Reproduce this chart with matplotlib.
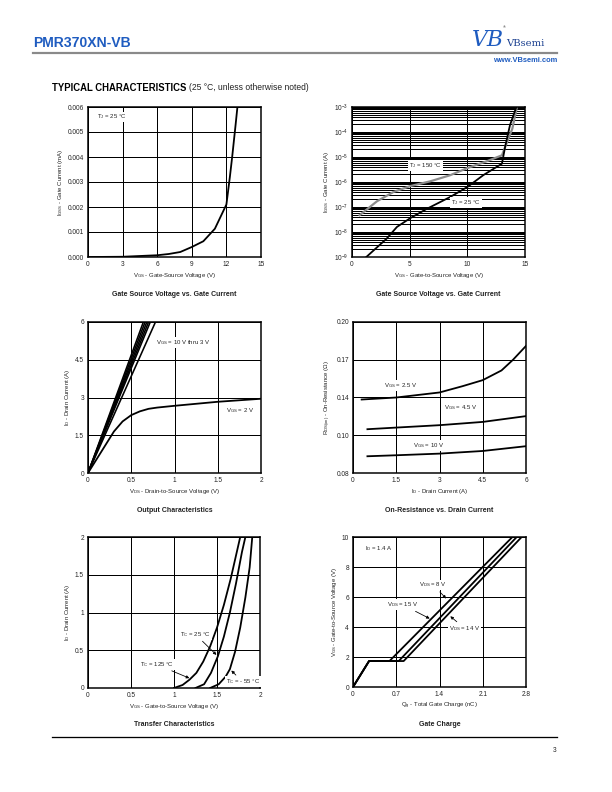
import numpy as np
import matplotlib
matplotlib.use("Agg")
import matplotlib.pyplot as plt
from matplotlib.ticker import FixedLocator, NullFormatter

plt.rcParams['font.family'] = ['Liberation Sans', 'DejaVu Sans']
plt.rcParams['mathtext.fontset'] = 'custom'
plt.rcParams['mathtext.rm'] = 'Liberation Sans'

# === Données ===
# Gate current vs VGS (linéaire, mA)
vgs_gc = [0, 3, 6, 7, 8, 9, 10, 11, 12, 12.3, 12.5, 12.8, 13.0]
igss_gc = [0, 0.00001, 0.00007, 0.00012, 0.0002, 0.0004, 0.00063, 0.00113,
           0.0021, 0.0032, 0.0040, 0.0053, 0.0062]

# Gate current vs VGS (log, A)
vgs_25 = [1.24, 3.0, 3.9, 5.06, 6.5, 8.5, 10.0, 11.4, 13.0, 13.3, 13.7, 14.25]
igss_25 = [1e-9, 5.4e-9, 1.6e-8, 3.6e-8, 8.5e-8, 2.5e-7, 6.3e-7, 1.9e-6,
           5.4e-6, 2.9e-5, 1.9e-4, 1e-3]
vgs_150 = [0.66, 2.17, 3.6, 5.06, 6.8, 8.5, 10.0, 11.7, 13.0, 13.45, 13.9, 14.3]
igss_150 = [4.7e-8, 1.7e-7, 4.0e-7, 6.9e-7, 1.07e-6, 1.86e-6, 3.6e-6,
            6.8e-6, 1.17e-5, 4.0e-5, 1.35e-4, 1e-3]

# Output characteristics
vds_hi_end = [0.64, 0.66, 0.68, 0.70, 0.72, 0.78]   # VGS = 10 V ... 3 V, atteint 6 A
id_hi_end = [6.0, 6.0, 6.0, 6.0, 6.0, 6.0]
vds_2v = [0, 0.1, 0.2, 0.3, 0.4, 0.5, 0.6, 0.7, 0.8, 1.0, 1.5, 2.0]
id_2v = [0, 0.55, 1.1, 1.65, 2.05, 2.3, 2.45, 2.55, 2.6, 2.67, 2.83, 2.95]

# On-resistance vs drain current
id_r25 = [0.3, 1.5, 3.0, 3.8, 4.5, 5.15, 5.55, 6.0]
r_25 = [0.1384, 0.1400, 0.1440, 0.1490, 0.1538, 0.1615, 0.170, 0.181]
id_r45 = [0.5, 1.5, 3.0, 4.5, 6.0]
r_45 = [0.1148, 0.1161, 0.1180, 0.1206, 0.1252]
id_r10 = [0.5, 1.5, 3.0, 4.5, 6.0]
r_10 = [0.0933, 0.0941, 0.0954, 0.0975, 0.1013]
r_ticks = [0.08, 0.11, 0.14, 0.17, 0.20]
r_ticklabels = ['0.08', '0.10', '0.14', '0.17', '0.20']

# Transfer characteristics
vgs_t125 = [1.0, 1.1, 1.18, 1.26, 1.34, 1.42, 1.5, 1.58, 1.66, 1.74, 1.77]
id_t125 = [0, 0.04, 0.11, 0.2, 0.35, 0.55, 0.8, 1.1, 1.45, 1.85, 2.0]
vgs_t25 = [1.25, 1.35, 1.43, 1.51, 1.58, 1.65, 1.72, 1.79, 1.83]
id_t25 = [0, 0.05, 0.2, 0.42, 0.68, 1.0, 1.38, 1.8, 2.0]
vgs_tm55 = [1.42, 1.52, 1.6, 1.65, 1.71, 1.77, 1.83, 1.88, 1.91]
id_tm55 = [0, 0.05, 0.15, 0.25, 0.48, 0.8, 1.2, 1.6, 2.0]

# Gate charge
qg_15 = [0, 0.26, 0.59, 2.58]
vg_15 = [0, 1.73, 1.73, 10]
qg_8 = [0, 0.26, 0.74, 2.65]
vg_8 = [0, 1.73, 1.73, 10]
qg_14 = [0, 0.26, 0.82, 2.73]
vg_14 = [0, 1.73, 1.73, 10]

W, H = 612, 792
fig = plt.figure(figsize=(W / 72, H / 72), dpi=72)

BLUE = '#1f5cc0'
TXT = '#222222'
box = dict(fc='white', ec='none', pad=1.0)


def add_ax(l, t, r, b):
    ax = fig.add_axes([l / W, 1 - b / H, (r - l) / W, (b - t) / H])
    for s in ax.spines.values():
        s.set_linewidth(1.5)
        s.set_color('black')
    ax.tick_params(length=0, labelsize=6.5, pad=4, colors=TXT)
    ax.grid(True, color='black', linewidth=1.0)
    ax.set_axisbelow(True)
    return ax


def title_below(ax, txt, y):
    b = ax.get_position()
    fig.text((b.x0 + b.x1) / 2, 1 - y / H, txt, ha='center', va='center',
             fontsize=7, fontweight='bold', color=TXT)


# === En-tête ===
fig.text(33 / W, 1 - 43 / H, 'PMR370XN-VB', fontsize=14, color=BLUE,
         fontweight='bold', ha='left', va='center')
fig.add_artist(plt.Line2D([33 / W, 557 / W], [1 - 53 / H, 1 - 53 / H],
                          color='#8a8a8a', linewidth=2.2))
fig.text(472 / W, 1 - 40 / H, 'VB', fontsize=22, color=BLUE, family='DejaVu Serif',
         style='italic', ha='left', va='center')
fig.text(506 / W, 1 - 44 / H, 'VBsemi', fontsize=10, color='#1a3f8f',
         family='DejaVu Serif', ha='left', va='center')
fig.text(503 / W, 1 - 27 / H, '®', fontsize=4, color=TXT, ha='left', va='center')
fig.text(557 / W, 1 - 61 / H, 'www.VBsemi.com', fontsize=7.5, color=BLUE,
         fontweight='bold', ha='right', va='center')

t1 = fig.text(52 / W, 1 - 88 / H, 'TYPICAL CHARACTERISTICS', fontsize=9.5,
              fontweight='bold', color='black', ha='left', va='center')
r = fig.canvas.get_renderer()
x_end = t1.get_window_extent(renderer=r).x1
fig.text((x_end + 3) / W, 1 - 88 / H, '(25 °C, unless otherwise noted)', fontsize=8.5,
         color=TXT, ha='left', va='center')

fig.add_artist(plt.Line2D([52 / W, 557 / W], [1 - 737 / H, 1 - 737 / H],
                          color='black', linewidth=1.3))
fig.text(556 / W, 1 - 750 / H, '3', fontsize=6.5, color=TXT, ha='right', va='center')

# === 1. Gate current (linéaire) ===
ax1 = add_ax(88, 107, 261, 257)
ax1.plot(vgs_gc, igss_gc, color='black', linewidth=1.8)
ax1.set_xlim(0, 15)
ax1.set_ylim(0, 0.006)
ax1.set_xticks([0, 3, 6, 9, 12, 15])
ax1.set_yticks(np.arange(0, 0.0061, 0.001))
ax1.set_yticklabels([f'{v:.3f}' for v in np.arange(0, 0.0061, 0.001)])
ax1.set_xlabel(r'V$_{\mathregular{GS}}$ - Gate-Source Voltage (V)', fontsize=6, color=TXT, labelpad=3)
ax1.set_ylabel(r'I$_{\mathregular{GSS}}$ - Gate Current (mA)', fontsize=6, color=TXT, labelpad=3)
ax1.text(0.75, 0.0056, r'T$_{\mathregular{J}}$ = 25 °C', fontsize=6, color=TXT,
         va='center', ha='left', bbox=box)
title_below(ax1, 'Gate Source Voltage vs. Gate Current', 294)

# === 2. Gate current (log) ===
ax2 = add_ax(352, 107, 525, 257)
ax2.set_yscale('log')
ax2.plot(vgs_150, igss_150, color='#8c8c8c', linewidth=2.2)
ax2.plot(vgs_25, igss_25, color='black', linewidth=1.8)
ax2.set_xlim(0, 15)
ax2.set_ylim(1e-9, 1e-3)
ax2.set_xticks([0, 5, 10, 15])
dec = list(range(-9, -2))
ax2.yaxis.set_major_locator(FixedLocator([10.0 ** e for e in dec]))
ax2.set_yticklabels([r'10$^{\mathregular{%d}}$' % e for e in dec])
minor = [m * 10.0 ** e for e in range(-9, -3) for m in range(2, 10)]
ax2.yaxis.set_minor_locator(FixedLocator(minor))
ax2.yaxis.set_minor_formatter(NullFormatter())
ax2.tick_params(which='minor', length=0)
ax2.grid(True, which='minor', axis='y', color='black', linewidth=1.0)
ax2.set_xlabel(r'V$_{\mathregular{GS}}$ - Gate-to-Source Voltage (V)', fontsize=6, color=TXT, labelpad=3)
ax2.set_ylabel(r'I$_{\mathregular{GSS}}$ - Gate Current (A)', fontsize=6, color=TXT, labelpad=3)
ax2.text(6.4, 4.7e-6, r'T$_{\mathregular{J}}$ = 150 °C', fontsize=6, color=TXT,
         ha='center', va='center', bbox=box)
ax2.text(9.9, 1.5e-7, r'T$_{\mathregular{J}}$ = 25 °C', fontsize=6, color=TXT,
         ha='center', va='center', bbox=box)
title_below(ax2, 'Gate Source Voltage vs. Gate Current', 294)

# === 3. Output characteristics ===
ax3 = add_ax(88, 322, 261, 473)
for xe, ye in zip(vds_hi_end, id_hi_end):
    ax3.plot([0, xe], [0, ye], color='black', linewidth=1.6)
ax3.plot(vds_2v, id_2v, color='black', linewidth=1.8)
ax3.set_xlim(0, 2)
ax3.set_ylim(0, 6)
ax3.set_xticks([0, 0.5, 1, 1.5, 2])
ax3.set_xticklabels(['0', '0.5', '1', '1.5', '2'])
ax3.set_yticks([0, 1.5, 3, 4.5, 6])
ax3.set_yticklabels(['0', '1.5', '3', '4.5', '6'])
ax3.set_xlabel(r'V$_{\mathregular{DS}}$ - Drain-to-Source Voltage (V)', fontsize=6, color=TXT, labelpad=3)
ax3.set_ylabel(r'I$_{\mathregular{D}}$ - Drain Current (A)', fontsize=6, color=TXT, labelpad=3)
ax3.text(0.79, 5.2, r'V$_{\mathregular{GS}}$ = 10 V thru 3 V', fontsize=6, color=TXT,
         ha='left', va='center', bbox=box)
ax3.text(1.59, 2.5, r'V$_{\mathregular{GS}}$ = 2 V', fontsize=6, color=TXT,
         ha='left', va='center', bbox=box)
title_below(ax3, 'Output Characteristics', 510)

# === 4. On-resistance ===
ax4 = add_ax(353, 322, 526, 473)
ax4.plot(id_r25, r_25, color='black', linewidth=1.8)
ax4.plot(id_r45, r_45, color='black', linewidth=1.8)
ax4.plot(id_r10, r_10, color='black', linewidth=1.8)
ax4.set_xlim(0, 6)
ax4.set_ylim(0.08, 0.20)
ax4.set_xticks([0, 1.5, 3, 4.5, 6])
ax4.set_xticklabels(['0', '1.5', '3', '4.5', '6'])
ax4.set_yticks(r_ticks)
ax4.set_yticklabels(r_ticklabels)
ax4.set_xlabel(r'I$_{\mathregular{D}}$ - Drain Current (A)', fontsize=6, color=TXT, labelpad=3)
ax4.set_ylabel(r'R$_{\mathregular{DS(on)}}$ - On-Resistance ($\Omega$)', fontsize=6, color=TXT, labelpad=3)
ax4.text(1.64, 0.1498, r'V$_{\mathregular{GS}}$ = 2.5 V', fontsize=6, color=TXT,
         ha='center', va='center', bbox=box)
ax4.text(3.74, 0.1318, r'V$_{\mathregular{GS}}$ = 4.5 V', fontsize=6, color=TXT,
         ha='center', va='center', bbox=box)
ax4.text(2.63, 0.102, r'V$_{\mathregular{GS}}$ = 10 V', fontsize=6, color=TXT,
         ha='center', va='center', bbox=box)
title_below(ax4, 'On-Resistance vs. Drain Current', 510)

# === 5. Transfer characteristics ===
ax5 = add_ax(88, 537, 260, 688)
ax5.plot(vgs_t125, id_t125, color='black', linewidth=1.8)
ax5.plot(vgs_t25, id_t25, color='black', linewidth=1.8)
ax5.plot(vgs_tm55, id_tm55, color='black', linewidth=1.8)
ax5.set_xlim(0, 2)
ax5.set_ylim(0, 2)
ax5.set_xticks([0, 0.5, 1, 1.5, 2])
ax5.set_xticklabels(['0', '0.5', '1', '1.5', '2'])
ax5.set_yticks([0, 0.5, 1, 1.5, 2])
ax5.set_yticklabels(['0', '0.5', '1', '1.5', '2'])
ax5.set_xlabel(r'V$_{\mathregular{GS}}$ - Gate-to-Source Voltage (V)', fontsize=6, color=TXT, labelpad=3)
ax5.set_ylabel(r'I$_{\mathregular{D}}$ - Drain Current (A)', fontsize=6, color=TXT, labelpad=3)
arw = dict(arrowstyle='-|>', color='black', lw=0.8, mutation_scale=6)
ax5.annotate(r'T$_{\mathregular{C}}$ = 125 °C', xy=(1.20, 0.12), xytext=(0.80, 0.31),
             fontsize=6, color=TXT, ha='center', va='center', bbox=box, arrowprops=arw)
ax5.annotate(r'T$_{\mathregular{C}}$ = 25 °C', xy=(1.51, 0.42), xytext=(1.25, 0.71),
             fontsize=6, color=TXT, ha='center', va='center', bbox=box, arrowprops=arw)
ax5.annotate(r'T$_{\mathregular{C}}$ = - 55 °C', xy=(1.65, 0.25), xytext=(1.80, 0.08),
             fontsize=6, color=TXT, ha='center', va='center', bbox=box, arrowprops=arw)
title_below(ax5, 'Transfer Characteristics', 725)

# === 6. Gate charge ===
ax6 = add_ax(353, 537, 526, 687)
ax6.plot(qg_15, vg_15, color='black', linewidth=1.8)
ax6.plot(qg_8, vg_8, color='black', linewidth=1.8)
ax6.plot(qg_14, vg_14, color='black', linewidth=1.8)
ax6.set_xlim(0, 2.8)
ax6.set_ylim(0, 10)
ax6.set_xticks([0, 0.7, 1.4, 2.1, 2.8])
ax6.set_xticklabels(['0', '0.7', '1.4', '2.1', '2.8'])
ax6.set_yticks([0, 2, 4, 6, 8, 10])
ax6.set_xlabel(r'Q$_{\mathregular{g}}$ - Total Gate Charge (nC)', fontsize=6, color=TXT, labelpad=3)
ax6.set_ylabel(r'V$_{\mathregular{GS}}$ - Gate-to-Source Voltage (V)', fontsize=6, color=TXT, labelpad=3)
ax6.text(0.19, 9.26, r'I$_{\mathregular{D}}$ = 1.4 A', fontsize=6, color=TXT,
         ha='left', va='center', bbox=box)
ax6.annotate(r'V$_{\mathregular{DS}}$ = 8 V', xy=(1.53, 5.8), xytext=(1.30, 6.8),
             fontsize=6, color=TXT, ha='center', va='center', bbox=box, arrowprops=arw)
ax6.annotate(r'V$_{\mathregular{DS}}$ = 15 V', xy=(1.27, 4.5), xytext=(0.81, 5.47),
             fontsize=6, color=TXT, ha='center', va='center', bbox=box, arrowprops=arw)
ax6.annotate(r'V$_{\mathregular{DS}}$ = 14 V', xy=(1.55, 4.8), xytext=(1.81, 3.9),
             fontsize=6, color=TXT, ha='center', va='center', bbox=box, arrowprops=arw)
title_below(ax6, 'Gate Charge', 725)

fig.savefig('out.png', dpi=72)
